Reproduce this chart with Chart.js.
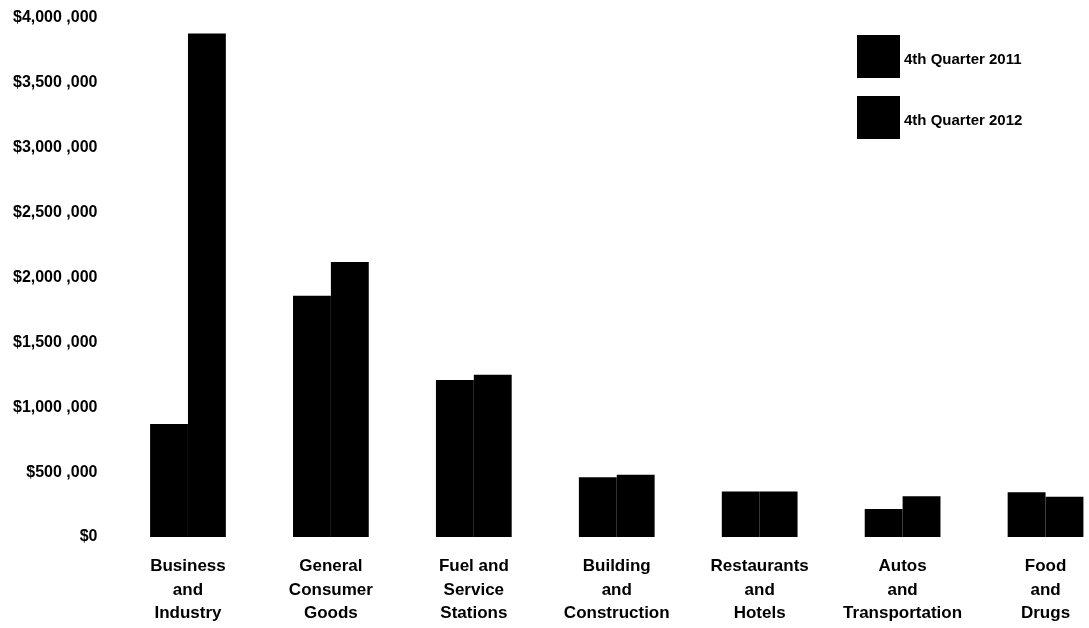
<!DOCTYPE html>
<html>
<head>
<meta charset="utf-8">
<script src="https://cdn.jsdelivr.net/npm/chart.js@4/dist/chart.umd.min.js"></script>
<style>
  html, body { margin: 0; padding: 0; background: #fff; overflow: hidden; }
  .wrap { position: relative; width: 1089px; height: 628px; overflow: hidden; }
  #canvas { position: absolute; left: 0; top: 0; }
  .legend { position: absolute; left: 857px; top: 35px; font-family: "Liberation Sans", Arial, sans-serif; font-weight: bold; font-size: 15px; color: #000; }
  .legend .item { position: relative; height: 43px; margin-bottom: 18px; }
  .legend .box { position: absolute; left: 0; top: 0; width: 43px; height: 43px; background: #000; }
  .legend .label { position: absolute; left: 47px; top: 15px; white-space: nowrap; }
</style>
</head>
<body>
<div class="wrap">
  <canvas id="canvas" width="1117" height="628"></canvas>
  <div class="legend" id="legend"></div>
</div>
<script>
// categories, multi-line like the original
const categories = [
  ["Business", "and", "Industry"],
  ["General", "Consumer", "Goods"],
  ["Fuel and", "Service", "Stations"],
  ["Building", "and", "Construction"],
  ["Restaurants", "and", "Hotels"],
  ["Autos", "and", "Transportation"],
  ["Food", "and", "Drugs"]
];

const seriesNames = ["4th Quarter 2011", "4th Quarter 2012"];

// dollars
const q4_2011 = [870000, 1860000, 1210000, 460000, 350000, 215000, 345000];
const q4_2012 = [3880000, 2120000, 1250000, 480000, 350000, 315000, 310000];

const yTicks = ["$0", "$500 ,000", "$1,000 ,000", "$1,500 ,000", "$2,000 ,000",
  "$2,500 ,000", "$3,000 ,000", "$3,500 ,000", "$4,000 ,000"];

const fontFamily = '"Liberation Sans", Arial, sans-serif';

// legend (html, big square swatches)
const legendEl = document.getElementById("legend");
seriesNames.forEach((name) => {
  const item = document.createElement("div");
  item.className = "item";
  item.innerHTML = '<div class="box"></div><div class="label">' + name + "</div>";
  legendEl.appendChild(item);
});

const ctx = document.getElementById("canvas").getContext("2d");

new Chart(ctx, {
  type: "bar",
  data: {
    labels: categories,
    datasets: [
      { label: seriesNames[0], data: q4_2011, backgroundColor: "#000" },
      { label: seriesNames[1], data: q4_2012, backgroundColor: "#000" }
    ]
  },
  options: {
    responsive: false,
    animation: false,
    layout: { padding: { top: 18, right: 0, bottom: 0, left: 0 } },
    datasets: {
      bar: { barPercentage: 1, categoryPercentage: 0.53 }
    },
    plugins: {
      legend: { display: false },
      tooltip: { enabled: false }
    },
    scales: {
      x: {
        grid: { display: false, drawTicks: false },
        border: { display: false },
        ticks: {
          color: "#000",
          padding: 18,
          maxRotation: 0,
          autoSkip: false,
          font: { family: fontFamily, size: 17, weight: "bold", lineHeight: 1.38 }
        },
        afterFit: (scale) => { scale.height = 91; }
      },
      y: {
        min: 0,
        max: 4000000,
        grid: { display: false, drawTicks: false },
        border: { display: false },
        ticks: {
          stepSize: 500000,
          color: "#000",
          padding: 19,
          font: { family: fontFamily, size: 16, weight: "bold" },
          callback: (value, i) => yTicks[i]
        },
        afterFit: (scale) => {
          scale.width = 116.5;
          // let the layout padding alone decide the top edge
          scale.paddingTop = 0;
          scale.paddingBottom = 0;
        }
      }
    }
  }
});
</script>
</body>
</html>
